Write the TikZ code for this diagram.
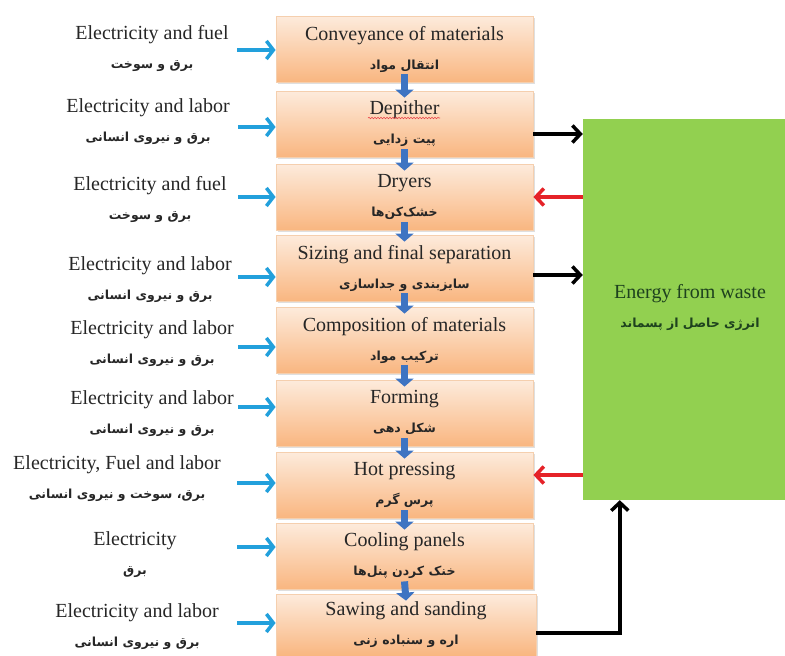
\documentclass[tikz,border=0pt]{standalone}
\usepackage{fontspec}
\setmainfont{Liberation Serif}
\newfontfamily\farsi[Script=Arabic]{DejaVu Sans}
\TeXXeTstate=1
\usetikzlibrary{arrows.meta,shadows,decorations.pathmorphing}
\newcommand\fa[1]{{\farsi\bfseries\fontsize{12.5}{29}\selectfont\beginR #1\endR}}
\definecolor{boxtop}{HTML}{FDEBDC}
\definecolor{boxbot}{HTML}{F9B680}
\definecolor{boxedge}{HTML}{F5CFAE}
\definecolor{txt}{HTML}{262626}
\definecolor{sideblue}{HTML}{22A0DC}
\definecolor{flowblue}{HTML}{3E74C2}
\definecolor{redarr}{HTML}{E52228}
\definecolor{wgreen}{HTML}{92D050}
\definecolor{gtxt}{HTML}{1E421E}
\begin{document}
\begin{tikzpicture}[x=1pt,y=-1pt,
 pbox/.style={shape=rectangle, draw=boxedge, line width=0.8pt, top color=boxtop, bottom color=boxbot,
   minimum width=257pt, minimum height=66pt, inner sep=0pt, align=center,
   font=\fontsize{20}{29}\selectfont, text=txt,
   drop shadow={shadow xshift=1.5pt, shadow yshift=-1.5pt, opacity=0.25}},
 lbl/.style={align=center, font=\fontsize{20}{29}\selectfont, text=txt, inner sep=0pt},
 sidearr/.style={draw=sideblue, line width=3.5pt, -{Straight Barb[length=7pt,width=18pt]}},
 flowarr/.style={draw=flowblue, line width=7pt, -{Triangle[length=8pt,width=18pt]}},
 outarr/.style={draw=black, line width=3.5pt, -{Straight Barb[length=8pt,width=17pt]}},
 inarr/.style={draw=redarr, line width=3.5pt, -{Straight Barb[length=8pt,width=17pt]}},
]
\useasboundingbox (0,0) rectangle (785,656);

% process boxes
\node[pbox] (b1) at (404.5,49)  {Conveyance of materials\\\fa{انتقال مواد}};
\node[pbox] (b2) at (404.5,124) {Depither\\\fa{پیت زدایی}};
\node[pbox] (b3) at (404.5,197) {Dryers\\\fa{خشک‌کن‌ها}};
\node[pbox] (b4) at (404.5,268) {Sizing and final separation\\\fa{سایزبندی و جداسازی}};
\node[pbox] (b5) at (404.5,340) {Composition of materials\\\fa{ترکیب مواد}};
\node[pbox] (b6) at (404.5,413) {Forming\\\fa{شکل دهی}};
\node[pbox] (b7) at (404.5,485) {Hot pressing\\\fa{پرس گرم}};
\node[pbox] (b8) at (404.5,556) {Cooling panels\\\fa{خنک کردن پنل‌ها}};
\node[pbox, minimum width=260pt, minimum height=62pt] (b9) at (406,625) {Sawing and sanding\\\fa{اره و سنباده زنی}};

% spell-check underline under "Depither"
\coordinate (sq1) at (368,118);
\coordinate (sq2) at (440,118);
\draw[redarr!85, line width=0.6pt, decorate, decoration={snake, amplitude=0.7pt, segment length=3pt}] (sq1) -- (sq2);

% flow arrows
\draw[flowarr] ([yshift=8pt]b1.south) -- ([yshift=-7pt]b2.north);
\draw[flowarr] ([yshift=8pt]b2.south) -- ([yshift=-7pt]b3.north);
\draw[flowarr] ([yshift=8pt]b3.south) -- ([yshift=-7pt]b4.north);
\draw[flowarr] ([yshift=8pt]b4.south) -- ([yshift=-7pt]b5.north);
\draw[flowarr] ([yshift=8pt]b5.south) -- ([yshift=-7pt]b6.north);
\draw[flowarr] ([yshift=8pt]b6.south) -- ([yshift=-7pt]b7.north);
\draw[flowarr] ([yshift=8pt]b7.south) -- ([yshift=-7pt]b8.north);
\draw[flowarr] ([yshift=8pt]b8.south) -- ([yshift=-7pt]b9.north);

% input labels
\node[lbl] (l1) at (152,48)  {Electricity and fuel\\\fa{برق و سوخت}};
\node[lbl] (l2) at (148,122) {Electricity and labor\\\fa{برق و نیروی انسانی}};
\node[lbl] (l3) at (150,199) {Electricity and fuel\\\fa{برق و سوخت}};
\node[lbl] (l4) at (150,280) {Electricity and labor\\\fa{برق و نیروی انسانی}};
\node[lbl] (l5) at (152,344) {Electricity and labor\\\fa{برق و نیروی انسانی}};
\node[lbl] (l6) at (152,414) {Electricity and labor\\\fa{برق و نیروی انسانی}};
\node[lbl] (l7) at (117,479) {Electricity, Fuel and labor\\\fa{برق، سوخت و نیروی انسانی}};
\node[lbl] (l8) at (135,555) {Electricity\\\fa{برق}};
\node[lbl] (l9) at (137,627) {Electricity and labor\\\fa{برق و نیروی انسانی}};

% input arrows
\coordinate (s1) at (237,50);
\coordinate (s2) at (238,127);
\coordinate (s3) at (238,197);
\coordinate (s4) at (238,277);
\coordinate (s5) at (238,347);
\coordinate (s6) at (238,407);
\coordinate (s7) at (237,483);
\coordinate (s8) at (237,547);
\coordinate (s9) at (237,623);
\foreach \i in {1,...,9} {\draw[sidearr] (s\i) -- (s\i -| b\i.west);}

% energy from waste
\node[fill=wgreen, minimum width=202pt, minimum height=381pt, inner sep=0pt] (g) at (684,309.5) {};
\node[lbl, text=gtxt] (gt) at (690,307) {Energy from waste\\\fa{انرژی حاصل از پسماند}};

\coordinate (o2) at ([yshift=-10pt]b2.east);
\coordinate (o4) at ([yshift=-7pt]b4.east);
\coordinate (i3) at (b3.east);
\coordinate (i7) at ([yshift=10pt]b7.east);
\coordinate (o9) at ([yshift=-8pt]b9.east);
\coordinate (gin) at ([xshift=37pt]g.south west);
\draw[outarr] (o2) -- (o2 -| g.west);
\draw[inarr] (i3 -| g.west) -- (i3);
\draw[outarr] (o4) -- (o4 -| g.west);
\draw[inarr] (i7 -| g.west) -- (i7);
\draw[outarr] (o9) -| (gin);
\end{tikzpicture}
\end{document}
